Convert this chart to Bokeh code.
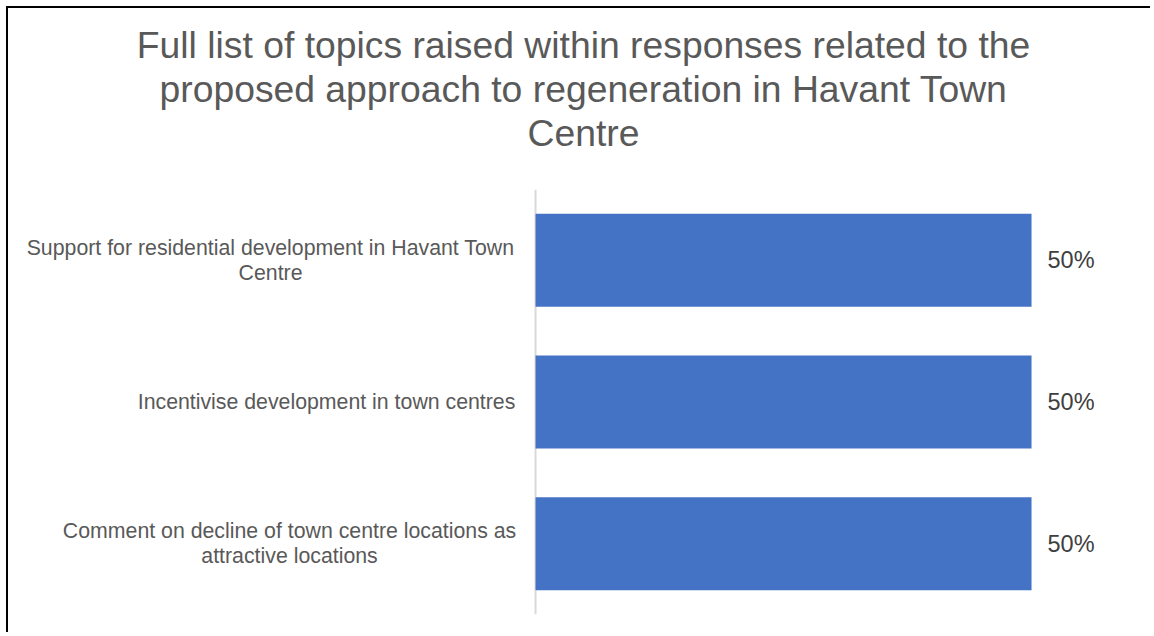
from bokeh.plotting import figure
from bokeh.models import ColumnDataSource, Title, Span, FactorRange
from bokeh.embed import file_html
from bokeh.resources import INLINE
from bokeh.core.properties import value

# ---- data ----
categories = [
    "Support for residential development in Havant Town\nCentre",
    "Incentivise development in town centres",
    "Comment on decline of town centre locations as\nattractive locations",
]
values = [0.50, 0.50, 0.50]
value_labels = ["50%", "50%", "50%"]
title_lines = [
    "Full list of topics raised within responses related to the",
    "proposed approach to regeneration in Havant Town",
    "Centre",
]

# ---- layout / style ----
FONT = "Liberation Sans"
BAR_COLOR = "#4472C4"
# horizontal pixel offset (from the axis) of each category label's centre
label_centre_px = [-265, -209, -246]

src = ColumnDataSource(dict(
    cat=categories,
    val=values,
    lbl=value_labels,
    zero=[0, 0, 0],
    lx=label_centre_px,
))

p = figure(
    width=1144, height=626,
    y_range=FactorRange(factors=list(reversed(categories))),
    x_range=(-0.5192, 0.6159),
    output_backend="svg", toolbar_location=None,
    x_axis_location=None, y_axis_location=None,
    min_border_left=12, min_border_right=6,
    min_border_top=181, min_border_bottom=20,
    outline_line_color=None,
)
p.grid.visible = False
p.styles = {"margin-left": "8px", "margin-top": "8px",
            "box-shadow": "-2px -2px 0px 0px #000000"}

# spacer between title block and plot area (closest to the plot area)
p.add_layout(Title(text=" ", text_font_size="1px", standoff=33), "above")
# title lines: added bottom line first (closest to the plot area)
for line in reversed(title_lines):
    p.add_layout(Title(text=line, align="center", text_font=FONT,
                       text_font_size="37.3px", text_font_style="normal",
                       text_color="#595959", text_line_height=0.97,
                       standoff=0), "above")

p.add_layout(Span(location=0, dimension="height", line_color="#D9D9D9",
                  line_width=2, level="underlay"))

p.hbar(y="cat", left="zero", right="val", height=0.656, source=src,
       fill_color=BAR_COLOR, line_color=None)

p.text(x="val", y="cat", text="lbl", source=src, x_offset=16,
       text_align="left", text_baseline="middle",
       text_font=value(FONT), text_font_size="23.5px", text_color="#404040")

p.text(x="zero", y="cat", text="cat", source=src, x_offset="lx",
       text_align="center", text_baseline="middle", text_line_height=1.05,
       text_font=value(FONT), text_font_size="21.3px", text_color="#595959")

open("out.html", "w").write(file_html(p, INLINE))
